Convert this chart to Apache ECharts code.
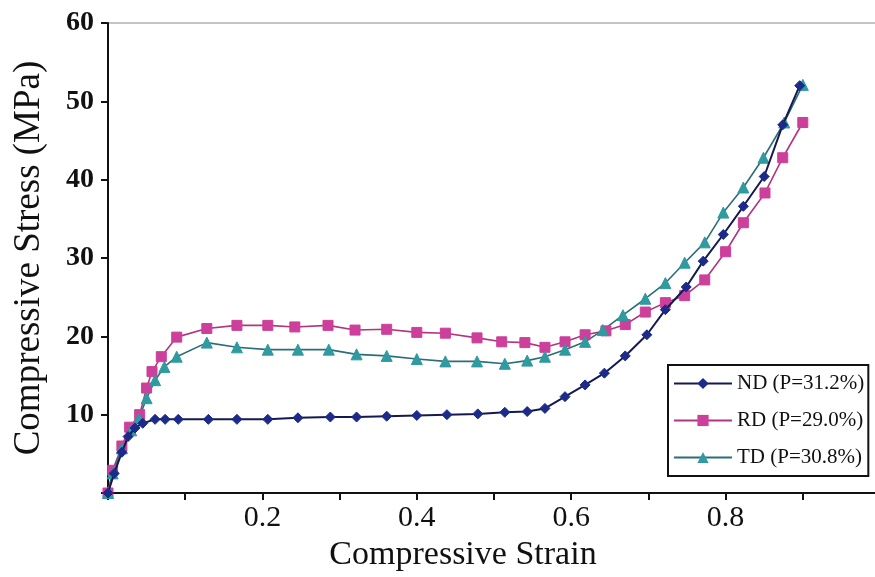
<!DOCTYPE html>
<html>
<head>
<meta charset="utf-8">
<script src="https://cdn.jsdelivr.net/npm/echarts@6/dist/echarts.min.js"></script>
<style>
  html, body { margin: 0; padding: 0; background: #fff; }
  #chart { width: 875px; height: 577px; }
</style>
</head>
<body>
<div id="chart"></div>
<script>
// values
var ndStrain = [0, 0.008, 0.018, 0.026, 0.035, 0.045, 0.061, 0.074, 0.091, 0.13, 0.167, 0.207, 0.246, 0.288, 0.322, 0.361, 0.4, 0.439, 0.479, 0.514, 0.543, 0.566, 0.592, 0.618, 0.643, 0.67, 0.698, 0.722, 0.749, 0.771, 0.797, 0.823, 0.85, 0.874, 0.896];
var ndStress = [0, 2.5, 5.2, 7.2, 8.3, 8.9, 9.4, 9.4, 9.4, 9.4, 9.4, 9.4, 9.6, 9.7, 9.7, 9.8, 9.9, 10.0, 10.1, 10.3, 10.4, 10.8, 12.3, 13.8, 15.3, 17.5, 20.2, 23.4, 26.3, 29.6, 33.0, 36.6, 40.4, 47.0, 52.0];

var rdStrain = [0, 0.006, 0.018, 0.028, 0.041, 0.05, 0.057, 0.069, 0.089, 0.128, 0.167, 0.207, 0.242, 0.285, 0.32, 0.361, 0.4, 0.437, 0.478, 0.51, 0.54, 0.566, 0.592, 0.618, 0.645, 0.67, 0.696, 0.722, 0.747, 0.773, 0.8, 0.823, 0.851, 0.874, 0.9];
var rdStress = [0, 2.9, 6.0, 8.4, 10.0, 13.4, 15.5, 17.4, 19.9, 21.0, 21.4, 21.4, 21.2, 21.4, 20.8, 20.9, 20.5, 20.4, 19.8, 19.3, 19.2, 18.6, 19.3, 20.2, 20.7, 21.5, 23.1, 24.3, 25.2, 27.2, 30.8, 34.5, 38.3, 42.8, 47.3];

var tdStrain = [0, 0.006, 0.018, 0.03, 0.04, 0.05, 0.061, 0.073, 0.089, 0.128, 0.167, 0.207, 0.246, 0.286, 0.322, 0.361, 0.4, 0.437, 0.478, 0.514, 0.543, 0.566, 0.592, 0.618, 0.641, 0.667, 0.696, 0.722, 0.747, 0.773, 0.797, 0.823, 0.849, 0.876, 0.9];
var tdStress = [0, 2.5, 5.7, 8.0, 9.5, 12.1, 14.4, 16.1, 17.4, 19.2, 18.6, 18.3, 18.3, 18.3, 17.7, 17.5, 17.1, 16.8, 16.8, 16.5, 16.9, 17.4, 18.3, 19.3, 20.8, 22.7, 24.8, 26.8, 29.4, 32.0, 35.8, 39.0, 42.8, 47.3, 52.1];

var seriesNames = ['ND (P=31.2%)', 'RD (P=29.0%)', 'TD (P=30.8%)'];
var xLabelTicks = [0.2, 0.4, 0.6, 0.8, 1];
var yLabelTicks = [10, 20, 30, 40, 50, 60];

function pairs(xs, ys) {
    var out = [];
    for (var i = 0; i < xs.length; i++) {
        out.push([xs[i], ys[i]]);
    }
    return out;
}

var serif = 'Liberation Serif';

var chart = echarts.init(document.getElementById('chart'));
chart.setOption({
    animation: false,
    backgroundColor: '#fff',
    textStyle: { fontFamily: serif },
    grid: {
        left: 108,
        top: 23,
        width: 772,
        height: 470,
        outerBoundsMode: 'none',
        containLabel: false,
        show: true,
        borderColor: '#888',
        borderWidth: 1
    },
    legend: {
        left: 668,
        top: 365,
        orient: 'vertical',
        itemWidth: 58,
        itemHeight: 14,
        itemGap: 16,
        padding: [8, 4, 8, 5],
        borderColor: '#111',
        borderWidth: 2,
        backgroundColor: '#fff',
        textStyle: { fontFamily: serif, fontSize: 21, color: '#111' },
        data: seriesNames
    },
    xAxis: {
        type: 'value',
        min: 0,
        max: 1,
        interval: 0.1,
        name: 'Compressive Strain',
        nameLocation: 'middle',
        nameGap: 42,
        // the name sits left of the axis middle in the source, the padding moves it
        nameTextStyle: { fontFamily: serif, fontSize: 34, color: '#111', padding: [0, 62, 0, 0] },
        axisLine: { lineStyle: { color: '#111', width: 2 } },
        axisTick: { show: true, length: 7, lineStyle: { color: '#111', width: 2 } },
        axisLabel: {
            fontFamily: serif, fontSize: 30, color: '#111', margin: 10,
            showMaxLabel: true,
            formatter: function (v) {
                var r = Math.round(v * 10) / 10;
                return xLabelTicks.indexOf(r) >= 0 ? String(r) : '';
            }
        },
        splitLine: { show: false }
    },
    yAxis: {
        type: 'value',
        min: 0,
        max: 60,
        interval: 10,
        name: 'Compressive Stress (MPa)',
        nameLocation: 'middle',
        nameGap: 60,
        nameTextStyle: { fontFamily: serif, fontSize: 37, color: '#111' },
        axisLine: { lineStyle: { color: '#111', width: 2 } },
        axisTick: { show: true, length: 7, lineStyle: { color: '#111', width: 2 } },
        axisLabel: {
            fontFamily: serif, fontSize: 28, fontWeight: 'bold', color: '#111', margin: 14,
            formatter: function (v) {
                return yLabelTicks.indexOf(v) >= 0 ? String(v) : '';
            }
        },
        splitLine: { show: false }
    },
    series: [
        {
            name: seriesNames[0],
            type: 'line',
            data: pairs(ndStrain, ndStress),
            symbol: 'diamond',
            symbolSize: 10,
            itemStyle: { color: '#1c2a8a', borderColor: '#1c2a8a' },
            lineStyle: { color: '#141a50', width: 2 },
            z: 3
        },
        {
            name: seriesNames[1],
            type: 'line',
            data: pairs(rdStrain, rdStress),
            symbol: 'rect',
            symbolSize: 10,
            itemStyle: { color: '#cc3f9a', borderColor: '#cc3f9a' },
            lineStyle: { color: '#b0367f', width: 1.6 },
            z: 2
        },
        {
            name: seriesNames[2],
            type: 'line',
            data: pairs(tdStrain, tdStress),
            symbol: 'triangle',
            symbolSize: 11,
            itemStyle: { color: '#2f9aa0', borderColor: '#2f9aa0' },
            lineStyle: { color: '#2a6f78', width: 1.6 },
            z: 2
        }
    ]
});
</script>
</body>
</html>
